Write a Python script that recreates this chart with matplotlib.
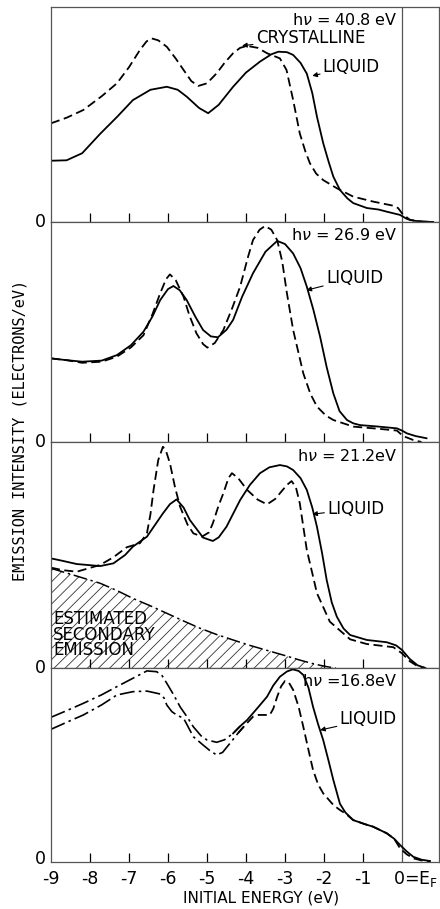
import matplotlib
matplotlib.use("Agg")
import matplotlib.pyplot as plt
import matplotlib.transforms as mtransforms
import numpy as np

plt.rcParams['axes.unicode_minus'] = False
plt.rcParams['font.family'] = ['DejaVu Sans']
plt.rcParams['hatch.linewidth'] = 0.6

# ---------------- data (initial energy in eV, intensity in panel units) -------------
# Panel 1: hv = 40.8 eV
p1_liq_x = [-9.0, -8.6, -8.2, -7.74, -7.3, -6.9, -6.45, -6.03, -5.75, -5.52, -5.2, -4.97, -4.7, -4.33, -4.0, -3.64, -3.35, -3.17, -2.95, -2.79, -2.6, -2.44, -2.3, -2.18, -2.02, -1.88, -1.76, -1.59, -1.4, -1.25, -0.9, -0.6, -0.39, -0.05, 0.13, 0.3, 0.55, 0.8]
p1_liq_y = [0.285, 0.287, 0.32, 0.41, 0.49, 0.567, 0.615, 0.629, 0.615, 0.583, 0.53, 0.506, 0.545, 0.629, 0.695, 0.746, 0.78, 0.792, 0.79, 0.777, 0.74, 0.69, 0.6, 0.49, 0.367, 0.28, 0.211, 0.149, 0.11, 0.088, 0.065, 0.058, 0.048, 0.033, 0.014, 0.006, 0.002, 0.0]
p1_cry_x = [-9.0, -8.6, -8.17, -7.7, -7.31, -7.0, -6.72, -6.55, -6.42, -6.25, -6.03, -5.8, -5.6, -5.4, -5.22, -5.0, -4.75, -4.55, -4.33, -4.15, -3.97, -3.7, -3.46, -3.13, -2.96, -2.79, -2.62, -2.48, -2.36, -2.2, -2.02, -1.67, -1.25, -0.74, -0.23, -0.1, 0.0, 0.2, 0.5, 0.8]
p1_cry_y = [0.459, 0.485, 0.521, 0.585, 0.645, 0.72, 0.8, 0.84, 0.854, 0.845, 0.815, 0.76, 0.707, 0.655, 0.633, 0.645, 0.692, 0.74, 0.785, 0.81, 0.819, 0.81, 0.785, 0.761, 0.707, 0.567, 0.412, 0.33, 0.273, 0.225, 0.195, 0.157, 0.118, 0.095, 0.076, 0.065, 0.041, 0.01, 0.002, 0.0]

# Panel 2: hv = 26.9 eV
p2_liq_x = [-9.0, -8.6, -8.2, -7.7, -7.31, -6.95, -6.63, -6.4, -6.2, -6.0, -5.86, -5.7, -5.52, -5.3, -5.1, -4.9, -4.72, -4.5, -4.33, -4.1, -3.82, -3.5, -3.2, -3.0, -2.79, -2.6, -2.44, -2.27, -2.1, -1.93, -1.76, -1.6, -1.41, -1.25, -1.08, -0.6, -0.13, 0.0, 0.13, 0.35, 0.63]
p2_liq_y = [0.38, 0.372, 0.365, 0.37, 0.395, 0.44, 0.501, 0.57, 0.645, 0.695, 0.709, 0.69, 0.645, 0.57, 0.509, 0.48, 0.476, 0.51, 0.555, 0.66, 0.767, 0.865, 0.914, 0.9, 0.857, 0.79, 0.706, 0.6, 0.479, 0.34, 0.221, 0.14, 0.1, 0.085, 0.077, 0.07, 0.062, 0.052, 0.039, 0.027, 0.017]
p2_cry_x = [-9.0, -8.6, -8.2, -7.7, -7.31, -6.95, -6.63, -6.4, -6.2, -6.05, -5.95, -5.8, -5.6, -5.45, -5.27, -5.1, -4.99, -4.8, -4.58, -4.35, -4.15, -3.95, -3.82, -3.65, -3.51, -3.35, -3.2, -3.07, -2.95, -2.79, -2.53, -2.35, -2.18, -1.95, -1.76, -1.25, -0.6, -0.13, 0.03, 0.29, 0.5]
p2_cry_y = [0.38, 0.372, 0.36, 0.365, 0.388, 0.43, 0.485, 0.58, 0.676, 0.74, 0.762, 0.735, 0.66, 0.575, 0.494, 0.445, 0.429, 0.45, 0.509, 0.61, 0.706, 0.84, 0.918, 0.965, 0.982, 0.965, 0.918, 0.82, 0.676, 0.509, 0.312, 0.22, 0.161, 0.12, 0.1, 0.07, 0.06, 0.052, 0.027, 0.009, 0.0]

# Panel 3: hv = 21.2 eV
p3_liq_x = [-9.0, -8.7, -8.34, -7.74, -7.4, -7.1, -6.9, -6.54, -6.13, -5.95, -5.78, -5.6, -5.44, -5.1, -4.85, -4.7, -4.5, -4.15, -3.9, -3.64, -3.4, -3.13, -2.95, -2.79, -2.6, -2.44, -2.3, -2.18, -2.05, -1.93, -1.8, -1.67, -1.5, -1.33, -0.9, -0.39, -0.15, 0.0, 0.2, 0.4, 0.6]
p3_liq_y = [0.485, 0.474, 0.46, 0.451, 0.463, 0.5, 0.537, 0.581, 0.684, 0.725, 0.746, 0.71, 0.655, 0.577, 0.562, 0.578, 0.625, 0.743, 0.81, 0.862, 0.888, 0.898, 0.892, 0.876, 0.84, 0.788, 0.71, 0.625, 0.51, 0.389, 0.29, 0.227, 0.175, 0.146, 0.124, 0.114, 0.1, 0.08, 0.04, 0.012, 0.0]
p3_cry_x = [-9.0, -8.7, -8.34, -7.74, -7.4, -7.06, -6.72, -6.54, -6.45, -6.37, -6.25, -6.13, -6.05, -5.95, -5.82, -5.69, -5.5, -5.35, -5.13, -4.95, -4.85, -4.7, -4.58, -4.45, -4.36, -4.2, -3.97, -3.7, -3.46, -3.25, -3.13, -2.95, -2.83, -2.72, -2.62, -2.44, -2.3, -2.18, -1.85, -1.33, -0.9, -0.22, 0.0, 0.2, 0.4, 0.6]
p3_cry_y = [0.444, 0.433, 0.426, 0.456, 0.49, 0.534, 0.552, 0.596, 0.68, 0.788, 0.92, 0.979, 0.96, 0.906, 0.8, 0.714, 0.635, 0.596, 0.581, 0.6, 0.64, 0.72, 0.773, 0.84, 0.862, 0.84, 0.788, 0.745, 0.724, 0.748, 0.773, 0.81, 0.827, 0.8, 0.729, 0.522, 0.42, 0.331, 0.205, 0.127, 0.106, 0.092, 0.065, 0.03, 0.008, 0.0]
p3_sec_x = [-9.0, -8.4, -7.74, -7.3, -6.9, -6.45, -6.03, -5.6, -5.18, -4.75, -4.33, -3.9, -3.46, -3.0, -2.62, -2.3, -2.1, -1.9, -1.7]
p3_sec_y = [0.441, 0.41, 0.375, 0.342, 0.308, 0.275, 0.242, 0.208, 0.176, 0.148, 0.124, 0.1, 0.078, 0.055, 0.035, 0.02, 0.012, 0.005, 0.0]

# Panel 4: hv = 16.8 eV
p4_liq_x = [-9.0, -8.6, -8.17, -7.7, -7.31, -6.9, -6.54, -6.29, -6.15, -6.03, -5.85, -5.69, -5.5, -5.35, -5.15, -5.0, -4.75, -4.55, -4.33, -4.15, -3.97, -3.7, -3.46, -3.3, -3.13, -2.95, -2.8, -2.65, -2.53, -2.4, -2.28, -2.15, -2.02, -1.88, -1.76, -1.59, -1.45, -1.25, -0.95, -0.74, -0.39, -0.2, -0.05, 0.12, 0.29, 0.5, 0.72]
p4_liq_y = [0.746, 0.78, 0.818, 0.862, 0.904, 0.947, 0.985, 0.981, 0.96, 0.921, 0.86, 0.8, 0.745, 0.697, 0.65, 0.629, 0.617, 0.63, 0.663, 0.7, 0.732, 0.795, 0.852, 0.91, 0.955, 0.982, 0.993, 0.985, 0.964, 0.9, 0.8, 0.71, 0.629, 0.52, 0.423, 0.3, 0.255, 0.216, 0.195, 0.182, 0.148, 0.12, 0.088, 0.055, 0.027, 0.012, 0.005]
p4_cry_x = [-9.0, -8.6, -8.17, -7.7, -7.31, -6.9, -6.54, -6.2, -6.1, -6.03, -5.9, -5.78, -5.6, -5.35, -5.1, -4.9, -4.75, -4.6, -4.41, -4.2, -4.06, -3.82, -3.68, -3.56, -3.39, -3.3, -3.2, -3.1, -3.0, -2.9, -2.79, -2.65, -2.53, -2.4, -2.28, -2.15, -2.02, -1.76, -1.59, -1.45, -1.25, -0.95, -0.74, -0.39, -0.2, -0.05, 0.12, 0.29, 0.5, 0.72]
p4_cry_y = [0.684, 0.72, 0.758, 0.81, 0.861, 0.878, 0.881, 0.866, 0.845, 0.809, 0.775, 0.758, 0.741, 0.646, 0.603, 0.57, 0.552, 0.565, 0.612, 0.665, 0.697, 0.749, 0.758, 0.758, 0.758, 0.79, 0.852, 0.905, 0.933, 0.925, 0.887, 0.8, 0.697, 0.58, 0.474, 0.4, 0.354, 0.294, 0.268, 0.25, 0.216, 0.195, 0.182, 0.148, 0.12, 0.071, 0.04, 0.019, 0.008, 0.003]

photon_labels = ["h$\\nu$ = 40.8 eV", "h$\\nu$ = 26.9 eV", "h$\\nu$ = 21.2eV", "h$\\nu$ =16.8eV"]
tick_vals = [-9, -8, -7, -6, -5, -4, -3, -2, -1]
tick_text = ["-9", "-8", "-7", "-6", "-5", "-4", "-3", "-2", "-1"]

# ---------------- layout ----------------
W, H = 440, 909
fig = plt.figure(figsize=(W / 100, H / 100), dpi=100)
left = 51 / W
width = 388 / W
panels_px = [(7, 222), (222, 442), (442, 668), (668, 862)]
axes = []
for top, bot in panels_px:
    ax = fig.add_axes([left, 1 - bot / H, width, (bot - top) / H])
    axes.append(ax)

frame_c = '#555555'
lw_curve = 1.3
dash = (5, 2.5)
dashdot = (9, 2.5, 1.5, 2.5)
arrow = dict(arrowstyle='-|>', lw=0.8, color='black', shrinkA=0, shrinkB=0, mutation_scale=7)

for i, ax in enumerate(axes):
    ax.set_xlim(-9, 0.95)
    ax.set_ylim(0, 1)
    for s in ax.spines.values():
        s.set_color(frame_c)
        s.set_linewidth(0.9)
    ax.set_xticks(range(-8, 0))
    ax.tick_params(axis='x', direction='in', length=6.5, width=0.9, color='black',
                   labelbottom=False, top=False)
    ax.set_yticks([])
    # "0" marker at the zero line, left of the frame
    off = 2 / 72 if i == 3 else 0
    tr = ax.get_yaxis_transform() + mtransforms.ScaledTranslation(0, off, fig.dpi_scale_trans)
    ax.text(-0.012, 0, "0", transform=tr, ha='right', va='center', fontsize=12.5)
    ax.axvline(0, color=frame_c, lw=0.9, zorder=1)
    ax.text(-0.12, 0.975, photon_labels[i], ha='right', va='top', fontsize=11.5)

ax1, ax2, ax3, ax4 = axes

# Panel 1
ax1.plot(p1_liq_x, p1_liq_y, color='black', lw=lw_curve)
ax1.plot(p1_cry_x, p1_cry_y, color='black', lw=lw_curve, dashes=dash)
ax1.annotate("CRYSTALLINE", xy=(-4.1, 0.82), xytext=(-3.75, 0.855), fontsize=12,
             va='center', ha='left', arrowprops=arrow)
ax1.annotate("LIQUID", xy=(-2.3, 0.68), xytext=(-2.03, 0.72), fontsize=12,
             va='center', ha='left', arrowprops=arrow)

# Panel 2
ax2.plot(p2_liq_x, p2_liq_y, color='black', lw=lw_curve)
ax2.plot(p2_cry_x, p2_cry_y, color='black', lw=lw_curve, dashes=dash)
ax2.annotate("LIQUID", xy=(-2.45, 0.69), xytext=(-1.95, 0.745), fontsize=12,
             va='center', ha='left', arrowprops=arrow)

# Panel 3
ax3.fill_between(p3_sec_x, 0, p3_sec_y, facecolor='none', edgecolor='#333333',
                 hatch='///', linewidth=0)
ax3.plot(p3_sec_x, p3_sec_y, color='black', lw=1.1, dashes=dashdot)
ax3.plot(p3_liq_x, p3_liq_y, color='black', lw=lw_curve)
ax3.plot(p3_cry_x, p3_cry_y, color='black', lw=lw_curve, dashes=dash)
ax3.annotate("LIQUID", xy=(-2.3, 0.68), xytext=(-1.92, 0.705), fontsize=12,
             va='center', ha='left', arrowprops=arrow)
ax3.text(-8.95, 0.148, "ESTIMATED\nSECONDARY\nEMISSION", fontsize=12, ha='left', va='center',
         linespacing=0.82)

# Panel 4
x4a = np.array(p4_liq_x); y4a = np.array(p4_liq_y)
x4b = np.array(p4_cry_x); y4b = np.array(p4_cry_y)
ma = x4a <= -4.15
mb = x4b <= -4.06
ax4.plot(x4a[ma], y4a[ma], color='black', lw=1.2, dashes=dashdot)
ax4.plot(x4a[x4a >= -4.33], y4a[x4a >= -4.33], color='black', lw=lw_curve)
ax4.plot(x4b[mb], y4b[mb], color='black', lw=1.2, dashes=dashdot)
ax4.plot(x4b[x4b >= -4.2], y4b[x4b >= -4.2], color='black', lw=lw_curve, dashes=dash)
ax4.annotate("LIQUID", xy=(-2.1, 0.68), xytext=(-1.6, 0.735), fontsize=12,
             va='center', ha='left', arrowprops=arrow)

# x tick labels under bottom panel
for v, t in zip(tick_vals, tick_text):
    ax4.text(v, -0.09, t, transform=ax4.get_xaxis_transform(), ha='center', va='center',
             fontsize=12.5)
ax4.text(-0.23, -0.09, "0=E$_\\mathregular{F}$", transform=ax4.get_xaxis_transform(),
         ha='left', va='center', fontsize=12.5, clip_on=False)

fig.text(261 / W, 1 - 898 / H, "INITIAL ENERGY (eV)", ha='center', va='center', fontsize=11)
fig.text(20 / W, 1 - 430 / H, "EMISSION INTENSITY (ELECTRONS/eV)", rotation=90,
         ha='center', va='center', fontsize=11, family='DejaVu Sans Mono')

fig.savefig("out.png", dpi=100)
